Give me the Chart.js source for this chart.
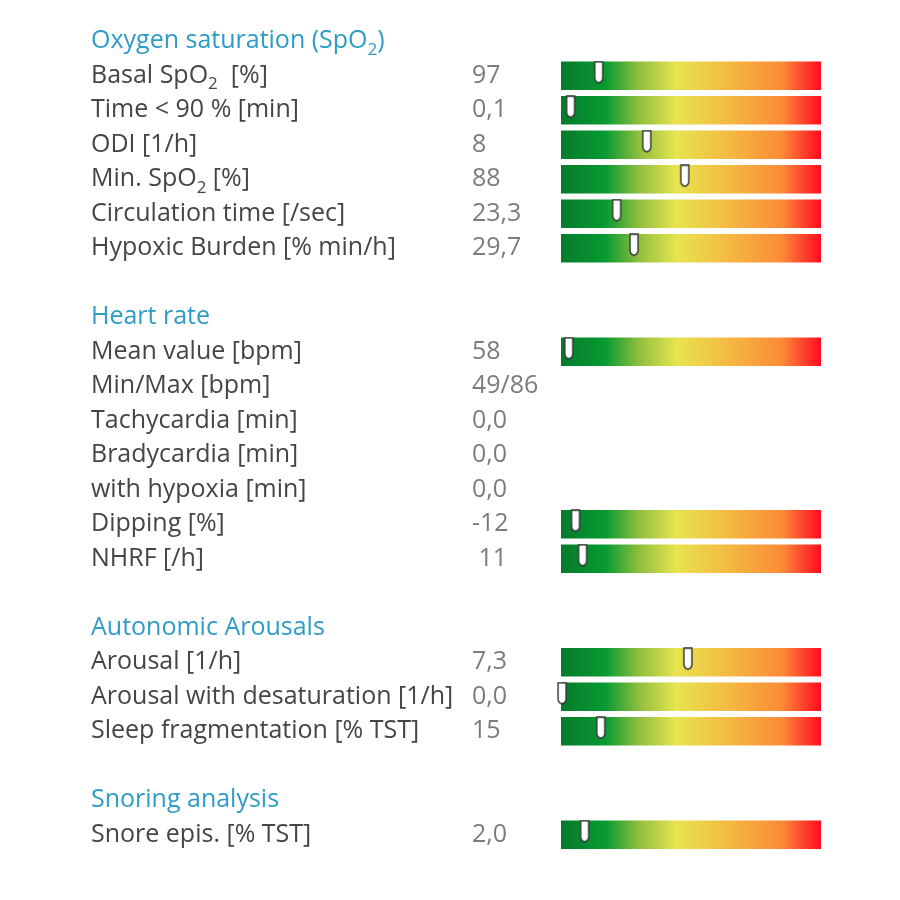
<!DOCTYPE html>
<html>
<head>
<meta charset="utf-8">
<script src="https://cdn.jsdelivr.net/npm/chart.js@4.4.1/dist/chart.umd.min.js"></script>
<style>
  html, body { margin: 0; padding: 0; background: #fff; }
  canvas { display: block; }
</style>
</head>
<body>
<canvas id="reportChart" width="900" height="900"></canvas>
<script>
// one entry per row, "_2" marks a subscript
const rowLabels = [
    "Oxygen saturation (SpO_2)",
    "Basal SpO_2  [%]",
    "Time < 90 % [min]",
    "ODI [1/h]",
    "Min. SpO_2 [%]",
    "Circulation time [/sec]",
    "Hypoxic Burden [% min/h]",
    "",
    "Heart rate",
    "Mean value [bpm]",
    "Min/Max [bpm]",
    "Tachycardia [min]",
    "Bradycardia [min]",
    "with hypoxia [min]",
    "Dipping [%]",
    "NHRF [/h]",
    "",
    "Autonomic Arousals",
    "Arousal [1/h]",
    "Arousal with desaturation [1/h]",
    "Sleep fragmentation [% TST]",
    "",
    "Snoring analysis",
    "Snore epis. [% TST]"
]

const rowKinds = [
    "header", "row", "row", "row", "row", "row", "row", "blank",
    "header", "row", "row", "row", "row", "row", "row", "row", "blank",
    "header", "row", "row", "row", "blank",
    "header", "row"
]

const rowValues = [
    "", "97", "0,1", "8", "88", "23,3", "29,7", "",
    "", "58", "49/86", "0,0", "0,0", "0,0", "-12", " 11", "",
    "", "7,3", "0,0", "15", "",
    "", "2,0"
]

// marker position on the green→red scale, 0..100 (null = no scale bar)
const markerPos = [
    null, 14.5, 3.7, 33, 47.6, 21.4, 28.1, null,
    null, 3, null, null, null, null, 5.6, 8.3, null,
    null, 48.8, 0.4, 15.3, null,
    null, 9.1
]

const scaleMax = 100
const trackValues = markerPos.map(v => v === null ? null : scaleMax)

const gradientStops = [
    [0.00, "#057a2c"],
    [0.17, "#079a31"],
    [0.30, "#8fbf3e"],
    [0.445, "#e8e44f"],
    [0.65, "#f4b842"],
    [0.85, "#fb8b37"],
    [1.00, "#ff0a21"]
]

const FONT = "'Open Sans', 'DejaVu Sans', sans-serif"
const FONT_SIZE = 25
const LABEL_X = 91
const VALUE_X = 472


function makeMarker() {

    const c = document.createElement("canvas")
    c.width = 12
    c.height = 30
    const g = c.getContext("2d")

    g.beginPath()
    g.moveTo(2, 1)
    g.lineTo(10, 1)
    g.lineTo(10, 17)
    g.quadraticCurveTo(10, 21, 6, 22)
    g.quadraticCurveTo(2, 21, 2, 17)
    g.closePath()
    g.fillStyle = "#ffffff"
    g.fill()
    g.lineWidth = 1.4
    g.strokeStyle = "#333333"
    g.stroke()

    return c
}


function trackGradient(context) {

    const area = context.chart.chartArea
    if (!area) return null

    const grad = context.chart.ctx.createLinearGradient(area.left, 0, area.right, 0)
    gradientStops.forEach(s => grad.addColorStop(s[0], s[1]))
    return grad
}


// draws text with "_x" parts as subscripts
function drawRich(ctx, text, x, y, size) {

    const parts = text.split(/(_\d)/)
    let cx = x

    parts.forEach(p => {
        if (p.startsWith("_")) {
            ctx.font = `${Math.round(size * 0.68)}px ${FONT}`
            ctx.fillText(p.slice(1), cx, y + size * 0.34)
            cx += ctx.measureText(p.slice(1)).width
        } else if (p.length) {
            ctx.font = `${size}px ${FONT}`
            ctx.fillText(p, cx, y)
            cx += ctx.measureText(p).width
        }
    })
}


const rowText = {
    id: "rowText",
    afterDraw(chart) {

        const ctx = chart.ctx
        const y = chart.scales.y

        ctx.save()
        ctx.textBaseline = "middle"
        ctx.textAlign = "left"

        rowLabels.forEach((label, i) => {
            const py = y.getPixelForValue(i)
            if (rowKinds[i] == "header") {
                ctx.fillStyle = "#2e9cc6"
                drawRich(ctx, label, LABEL_X, py, FONT_SIZE)
            } else if (rowKinds[i] == "row") {
                ctx.fillStyle = "#454545"
                drawRich(ctx, label, LABEL_X, py, FONT_SIZE)
                ctx.fillStyle = "#7c7c7c"
                drawRich(ctx, rowValues[i], VALUE_X, py, FONT_SIZE)
            }
        })

        ctx.restore()
    }
}


new Chart(document.getElementById("reportChart"), {
    type: "bar",
    data: {
        labels: rowLabels,
        datasets: [
            {
                type: "line",
                data: markerPos,
                showLine: false,
                pointStyle: makeMarker(),
                clip: false,
                order: 0
            },
            {
                type: "bar",
                data: trackValues,
                backgroundColor: trackGradient,
                borderWidth: 0,
                barPercentage: 0.82,
                categoryPercentage: 1,
                order: 1
            }
        ]
    },
    options: {
        indexAxis: "y",
        responsive: false,
        devicePixelRatio: 1,
        animation: false,
        events: [],
        layout: {
            padding: { left: 561, right: 79, top: 24, bottom: 48 }
        },
        plugins: {
            legend: { display: false },
            tooltip: { enabled: false }
        },
        scales: {
            x: { display: false, min: 0, max: scaleMax },
            y: { display: false }
        }
    },
    plugins: [rowText]
})
</script>
</body>
</html>
